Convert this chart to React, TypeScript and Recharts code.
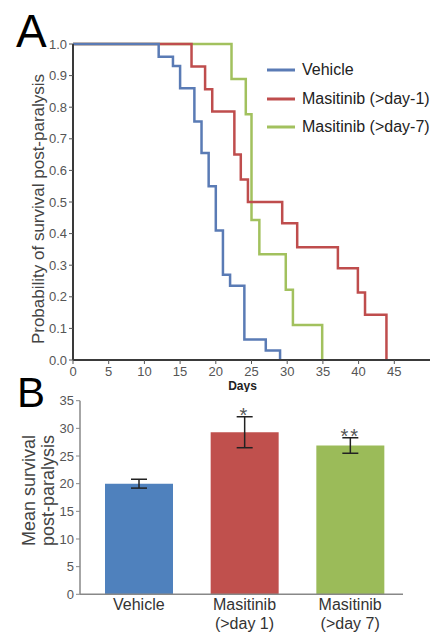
import React from 'react';
import {
  LineChart,
  Line,
  XAxis,
  YAxis,
  Legend,
  ComposedChart,
  Bar,
  Cell,
  ErrorBar,
} from 'recharts';

const FONT = '"Liberation Sans", Arial, Helvetica, sans-serif';

// Kaplan-Meier survival steps (days post-paralysis, survival fraction)
const vehicleDays = [0, 12, 14, 15, 17, 18, 19, 20, 21, 22, 24, 27, 29];
const vehicleSurv = [1, 0.96, 0.93, 0.86, 0.755, 0.655, 0.55, 0.41, 0.27, 0.235, 0.065, 0.03, 0];

const masi1Days = [0, 16.6, 18.5, 19.5, 22.6, 23.5, 24.5, 29.3, 31.4, 37.1, 39.9, 40.9, 43.9];
const masi1Surv = [1, 0.929, 0.857, 0.786, 0.65, 0.571, 0.5, 0.433, 0.357, 0.29, 0.214, 0.143, 0];

const masi7Days = [0, 22.2, 24.2, 25, 26.1, 29.8, 30.8, 34.9];
const masi7Surv = [1, 0.889, 0.778, 0.443, 0.335, 0.222, 0.111, 0];

const seriesNames = ['Vehicle', 'Masitinib (>day-1)', 'Masitinib (>day-7)'];
const lineColors = ['#5a7bb5', '#bf4d4d', '#a2c15e'];

const kmXTicks = [0, 5, 10, 15, 20, 25, 30, 35, 40, 45];
const kmYTicks = [0, 0.1, 0.2, 0.3, 0.4, 0.5, 0.6, 0.7, 0.8, 0.9, 1.0];

// Mean survival bars
const barCats = ['Vehicle', 'Masitinib\n(>day 1)', 'Masitinib\n(>day 7)'];
const barMeans = [20, 29.3, 26.9];
const barErrs = [0.8, 2.8, 1.4];
const barSig = ['', '*', '**'];
const barColors = ['#4f81bd', '#c0504d', '#9bbb59'];
const barYTicks = [0, 5, 10, 15, 20, 25, 30, 35];

const toSteps = (days: number[], surv: number[]) =>
  days.map((d, i) => ({ day: d, surv: surv[i] }));

const vehicleData = toSteps(vehicleDays, vehicleSurv);
const masi1Data = toSteps(masi1Days, masi1Surv);
const masi7Data = toSteps(masi7Days, masi7Surv);

const barData = barCats.map((c, i) => ({
  cat: c,
  mean: barMeans[i],
  err: barErrs[i],
  top: barMeans[i] + barErrs[i],
  sig: barSig[i],
}));

const KmLegend = () => (
  <div style={{ fontFamily: FONT }}>
    {seriesNames.map((n, i) => (
      <div key={n} style={{ display: 'flex', alignItems: 'center', height: 28.5 }}>
        <svg width={28} height={4} style={{ marginRight: 7 }}>
          <line x1={0} y1={2} x2={28} y2={2} stroke={lineColors[i]} strokeWidth={3} />
        </svg>
        <span style={{ fontSize: 16, color: '#222', whiteSpace: 'nowrap' }}>{n}</span>
      </div>
    ))}
  </div>
);

const KmYLabel = (props: any) => {
  const vb = props.viewBox;
  const cx = vb.x + 5;
  const cy = vb.y + vb.height / 2 + 7;
  return (
    <text
      x={cx}
      y={cy}
      transform={`rotate(-90, ${cx}, ${cy})`}
      textAnchor="middle"
      dominantBaseline="central"
      fontSize={17}
      fill="#444"
      fontFamily={FONT}
    >
      Probability of survival post-paralysis
    </text>
  );
};

const BarYLabel = (props: any) => {
  const vb = props.viewBox;
  const cy = vb.y + vb.height / 2 - 7;
  const lines = ['Mean survival', 'post-paralysis'];
  return (
    <g>
      {lines.map((t, i) => {
        const cx = vb.x - 11 + i * 19;
        return (
          <text
            key={t}
            x={cx}
            y={cy}
            transform={`rotate(-90, ${cx}, ${cy})`}
            textAnchor="middle"
            dominantBaseline="central"
            fontSize={18}
            fill="#444"
            fontFamily={FONT}
          >
            {t}
          </text>
        );
      })}
    </g>
  );
};

const CatTick = (props: any) => {
  const { x, y, payload } = props;
  const lines = String(payload.value).split('\n');
  return (
    <text x={x} y={y} textAnchor="middle" fontSize={16} fill="#333" fontFamily={FONT}>
      {lines.map((l, i) => (
        <tspan key={i} x={x} dy={i === 0 ? 8 : 18.5}>
          {l}
        </tspan>
      ))}
    </text>
  );
};

const StarDot = (props: any) => {
  const { cx, cy, payload } = props;
  if (!payload || !payload.sig) return <g />;
  return (
    <text
      x={cx}
      y={cy + 5}
      textAnchor="middle"
      fontSize={20}
      fill="#555"
      letterSpacing={2}
      fontFamily={FONT}
    >
      {payload.sig}
    </text>
  );
};

export default function App() {
  return (
    <div style={{ position: 'absolute', left: 0, top: 0, width: 439, height: 632, background: '#fff' }}>
      <div style={{ position: 'absolute', left: 0, top: 0 }}>
        <LineChart width={439} height={392} margin={{ top: 44, right: 9, left: 33, bottom: 12 }}>
          <XAxis
            type="number"
            dataKey="day"
            domain={[0, 50]}
            ticks={kmXTicks}
            height={20}
            axisLine={{ stroke: '#3a3a3a', strokeWidth: 2 }}
            tickLine={{ stroke: '#555' }}
            tickSize={4}
            tickMargin={3}
            tick={{ fill: '#555', fontSize: 13, fontFamily: FONT }}
            label={{
              value: 'Days',
              position: 'bottom',
              offset: 1,
              dx: -9,
              style: { fill: '#222', fontSize: 12, fontWeight: 'bold', fontFamily: FONT },
            }}
          />
          <YAxis
            type="number"
            domain={[0, 1]}
            ticks={kmYTicks}
            tickFormatter={(v: number) => v.toFixed(1)}
            width={40}
            axisLine={{ stroke: '#3a3a3a', strokeWidth: 2 }}
            tickLine={{ stroke: '#555' }}
            tickSize={4}
            tickMargin={2}
            tick={{ fill: '#555', fontSize: 13, fontFamily: FONT }}
            label={<KmYLabel />}
          />
          <Line
            data={masi7Data}
            dataKey="surv"
            type="stepAfter"
            stroke={lineColors[2]}
            strokeWidth={2.5}
            dot={false}
            activeDot={false}
            isAnimationActive={false}
          />
          <Line
            data={masi1Data}
            dataKey="surv"
            type="stepAfter"
            stroke={lineColors[1]}
            strokeWidth={2.5}
            dot={false}
            activeDot={false}
            isAnimationActive={false}
          />
          <Line
            data={vehicleData}
            dataKey="surv"
            type="stepAfter"
            stroke={lineColors[0]}
            strokeWidth={2.5}
            dot={false}
            activeDot={false}
            isAnimationActive={false}
          />
          <Legend
            layout="horizontal"
            verticalAlign="middle"
            align="center"
            content={<KmLegend />}
            wrapperStyle={{ top: 56, left: 267, width: 180 }}
          />
          <text x={16} y={47} fontSize={46} fill="#000" fontFamily={FONT}>
            A
          </text>
        </LineChart>
      </div>
      <div style={{ position: 'absolute', left: 0, top: 370 }}>
        <ComposedChart
          width={439}
          height={262}
          data={barData}
          margin={{ top: 30.7, right: 36, left: 40, bottom: 0 }}
        >
          <XAxis
            dataKey="cat"
            height={37.7}
            padding={{ left: 6, right: 0 }}
            interval={0}
            axisLine={{ stroke: '#888', strokeWidth: 1.5 }}
            tickLine={false}
            tick={<CatTick />}
          />
          <YAxis
            type="number"
            domain={[0, 35]}
            ticks={barYTicks}
            width={40}
            axisLine={{ stroke: '#888', strokeWidth: 1.5 }}
            tickLine={{ stroke: '#888' }}
            tickSize={4}
            tickMargin={2}
            tick={{ fill: '#555', fontSize: 13, fontFamily: FONT }}
            label={<BarYLabel />}
          />
          <Bar dataKey="mean" barSize={68} isAnimationActive={false}>
            {barData.map((d, i) => (
              <Cell key={d.cat} fill={barColors[i]} />
            ))}
            <ErrorBar dataKey="err" width={8} stroke="#222" strokeWidth={1.5} isAnimationActive={false} />
          </Bar>
          <Line
            dataKey="top"
            stroke="none"
            dot={<StarDot />}
            activeDot={false}
            isAnimationActive={false}
          />
          <text x={17} y={37} fontSize={42} fill="#000" fontFamily={FONT}>
            B
          </text>
        </ComposedChart>
      </div>
    </div>
  );
}
